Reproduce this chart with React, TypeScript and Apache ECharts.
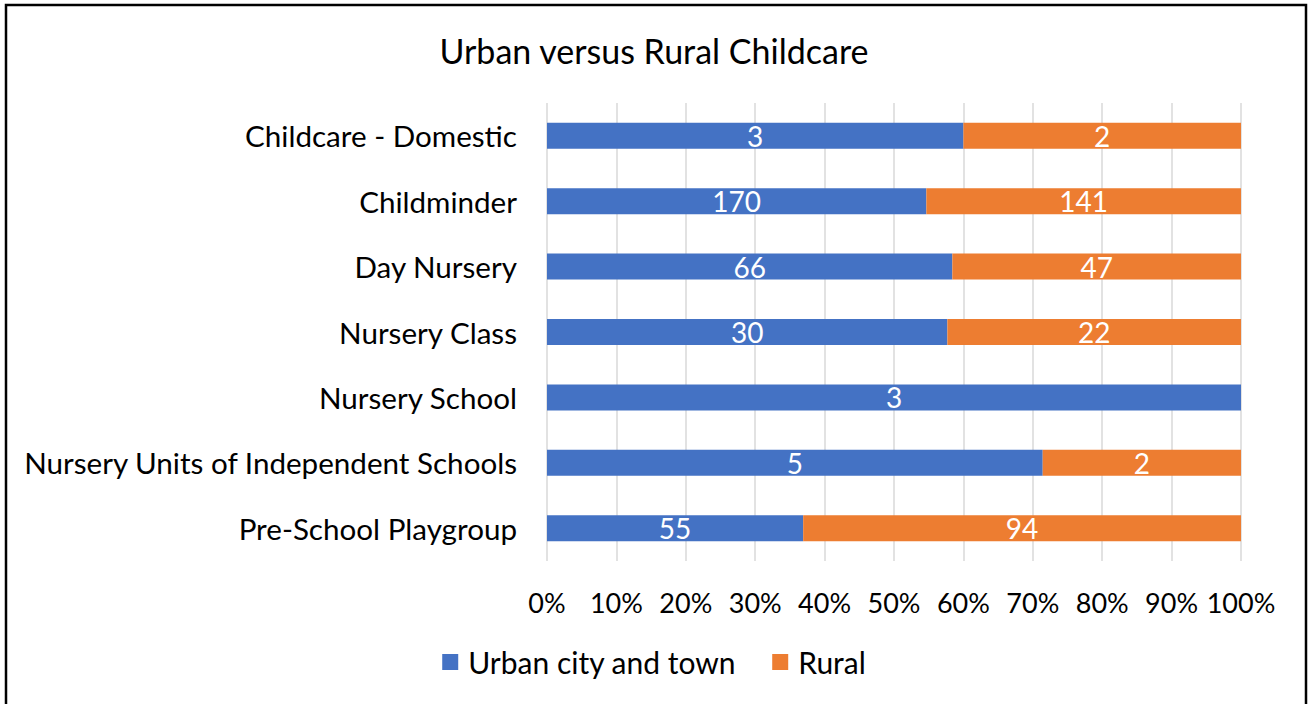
import React, { useEffect, useRef } from "react";
import * as echarts from "echarts";

const categories = [
  "Childcare - Domestic",
  "Childminder",
  "Day Nursery",
  "Nursery Class",
  "Nursery School",
  "Nursery Units of Independent Schools",
  "Pre-School Playgroup",
];
const urbanValues = [3, 170, 66, 30, 3, 5, 55];
const ruralValues = [2, 141, 47, 22, 0, 2, 94];
const seriesNames = ["Urban city and town", "Rural"];
const xTicks = [0, 10, 20, 30, 40, 50, 60, 70, 80, 90, 100];

const FONT = "Lato";

export default function App() {
  const ref = useRef<HTMLDivElement>(null);
  useEffect(() => {
    if (!ref.current) return;
    const chart = echarts.init(ref.current, undefined, { renderer: "svg" });
    const cats = [...categories].reverse();
    const urb = [...urbanValues].reverse();
    const rur = [...ruralValues].reverse();
    const mk = (arr: number[]) =>
      arr.map((v, i) => {
        const total = urb[i] + rur[i];
        return { value: total ? (v / total) * 100 : 0, raw: v };
      });
    const label = {
      show: true,
      position: "inside",
      color: "#ffffff",
      fontFamily: FONT,
      fontSize: 28,
      formatter: (p: any) => (p.data.raw ? String(p.data.raw) : ""),
    };
    chart.setOption({
      animation: false,
      backgroundColor: "#ffffff",
      title: {
        text: "Urban versus Rural Childcare",
        left: "center",
        top: 28,
        textStyle: { fontFamily: FONT, fontSize: 34, fontWeight: "normal", color: "#000" },
      },
      legend: {
        bottom: 22,
        left: "center",
        itemWidth: 16,
        itemHeight: 16,
        itemGap: 36,
        icon: "rect",
        textStyle: { fontFamily: FONT, fontSize: 30, color: "#000", padding: [0, 0, 0, 5] },
        data: seriesNames,
      },
      grid: { left: 547, right: 67, top: 103, bottom: 143, containLabel: false },
      xAxis: {
        type: "value",
        min: 0,
        max: 100,
        interval: 10,
        axisLine: { show: false },
        axisTick: { show: false },
        splitLine: { show: true, lineStyle: { color: "#d9d9d9", width: 1.5 } },
        axisLabel: {
          fontFamily: FONT,
          fontSize: 27,
          color: "#000",
          margin: 28,
          formatter: (v: number) => (xTicks.includes(v) ? v + "%" : ""),
        },
      },
      yAxis: {
        type: "category",
        data: cats,
        axisLine: { show: false },
        axisTick: { show: false },
        axisLabel: { fontFamily: FONT, fontSize: 29.6, color: "#000", margin: 30 },
      },
      series: [
        {
          name: seriesNames[0],
          type: "bar",
          stack: "total",
          barWidth: 26,
          itemStyle: { color: "#4472c4" },
          label,
          data: mk(urb),
        },
        {
          name: seriesNames[1],
          type: "bar",
          stack: "total",
          barWidth: 26,
          itemStyle: { color: "#ed7d31" },
          label,
          data: mk(rur),
        },
      ],
      graphic: [
        {
          type: "rect",
          shape: { x: 6, y: 5, width: 1300, height: 720 },
          style: { fill: "none", stroke: "#000", lineWidth: 2.5 },
          silent: true,
        },
      ],
    });
    return () => chart.dispose();
  }, []);
  return (
    <div
      ref={ref}
      style={{ position: "absolute", left: 0, top: 0, width: 1308, height: 704 }}
    />
  );
}
